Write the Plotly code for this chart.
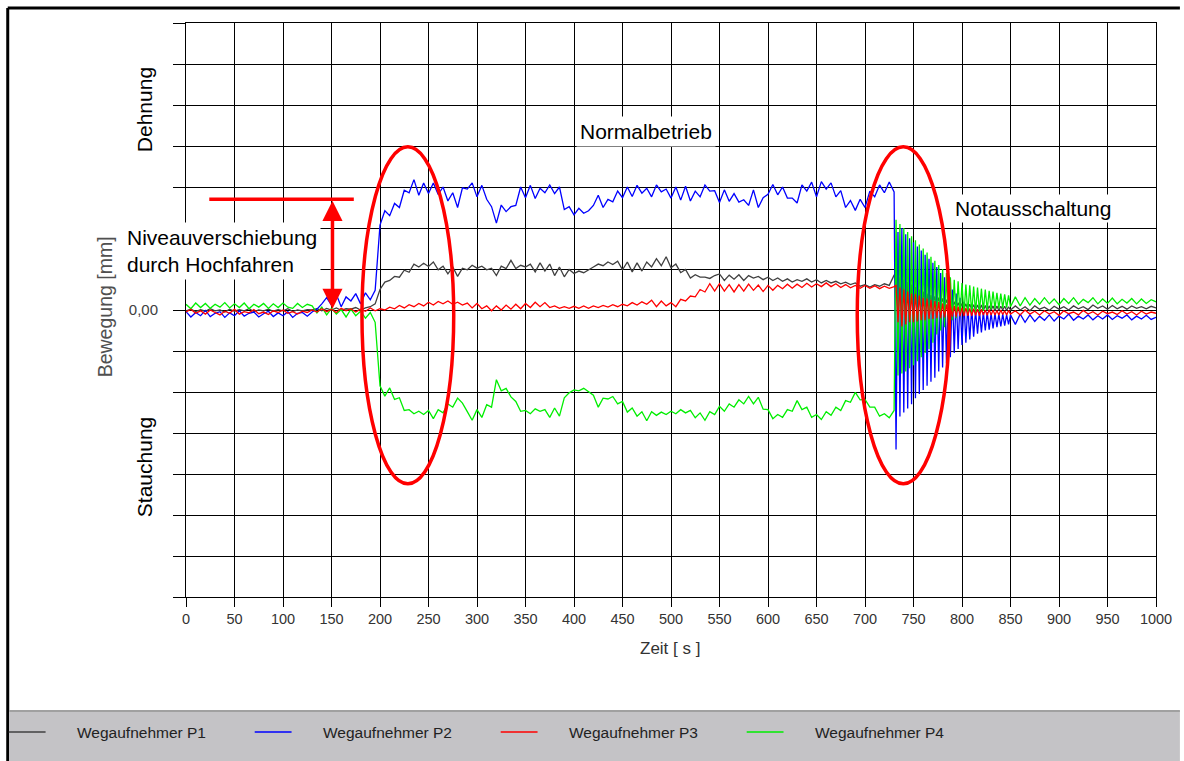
import numpy as np
import plotly.graph_objects as go

# ---------------- data (grid units) ----------------
# time bases: 0..730 s every 5 s, 732..850 s every 2 s, 855..1000 s every 5 s
t_main = np.arange(0, 731, 5)
t_osc = np.arange(732, 851, 2)
t_tail = np.arange(855, 1001, 5)

# ---- Wegaufnehmer P1 (grey)
p1_rest = [-0.02, 0.02, -0.04, 0.01, -0.03, 0.03, -0.02, 0.00, -0.05, 0.02,
           -0.03, 0.01, -0.02, 0.03, -0.04, 0.00, -0.02, 0.02, -0.03, 0.01,
           -0.02, 0.03, -0.04, 0.00, -0.02, 0.01]
p1_start = [0.00, 0.03, -0.02, 0.04, 0.00, 0.05, -0.01, 0.03, 0.02, 0.06,
            0.00, 0.05, 0.08, 0.15]
p1_run = [0.50, 0.68, 0.72, 0.82, 0.80, 0.97, 0.92, 1.12, 1.05, 1.14,
          1.06, 1.17, 0.98, 1.07, 0.88, 1.05, 0.82, 1.02, 0.98, 1.09,
          1.02, 1.07, 0.98, 1.02, 0.84, 1.07, 1.01, 1.21, 1.01, 1.09,
          1.05, 1.12, 0.93, 1.15, 0.95, 1.12, 0.84, 1.05, 0.81, 0.99,
          0.89, 0.95, 0.91, 0.99, 1.05, 1.12, 1.08, 1.17, 1.11, 1.19,
          0.98, 1.17, 0.93, 1.15, 0.95, 1.17, 1.05, 1.25, 1.08, 1.30,
          1.03, 1.12, 0.91, 0.99, 0.78, 0.86, 0.80, 0.80, 0.77, 0.84,
          0.88, 0.72, 0.85, 0.75, 0.86, 0.72, 0.84, 0.78, 0.82, 0.74,
          0.80, 0.72, 0.78, 0.70, 0.76, 0.68, 0.74, 0.70, 0.76, 0.68,
          0.74, 0.66, 0.72, 0.66, 0.70, 0.64, 0.68, 0.62, 0.66, 0.58,
          0.62, 0.56, 0.62, 0.58, 0.64, 0.60, 0.85]
p1_osc = [0.90, -0.10, 0.80, -0.05, 0.75, 0.00, 0.68, 0.02, 0.62, 0.05,
          0.56, 0.06, 0.50, 0.08, 0.45, 0.08, 0.40, 0.10, 0.36, 0.10,
          0.33, 0.10, 0.30, 0.10, 0.28, 0.08, 0.25, 0.08, 0.22, 0.06,
          0.20, 0.05, 0.18, 0.04, 0.16, 0.03, 0.15, 0.02, 0.14, 0.02,
          0.13, 0.00, 0.12, 0.00, 0.12, -0.01, 0.11, -0.01, 0.10, 0.00,
          0.10, -0.02, 0.10, -0.01, 0.09, 0.00, 0.09, -0.01, 0.08, 0.00]
p1_tail = [0.10, 0.00, 0.08, -0.02, 0.10, 0.02, 0.07, -0.01, 0.09, 0.02,
           0.08, 0.00, 0.10, 0.03, 0.08, 0.01, 0.12, 0.04, 0.10, 0.02,
           0.11, 0.03, 0.09, 0.02, 0.10, 0.04, 0.08, 0.03, 0.09, 0.05]

# ---- Wegaufnehmer P2 (blue)
p2_rest = [-0.04, -0.17, -0.06, -0.14, -0.01, -0.16, -0.08, -0.04, -0.18, -0.07,
           -0.14, -0.02, -0.15, -0.08, -0.05, -0.17, -0.09, -0.03, -0.16, -0.07,
           -0.14, -0.04, -0.18, -0.08, -0.06, -0.15]
p2_start = [-0.05, 0.02, 0.15, 0.30, 0.12, 0.38, 0.08, 0.32, 0.22, 0.40,
            0.15, 0.42, 0.25, 0.48]
p2_run = [2.07, 2.42, 2.30, 2.60, 2.50, 2.92, 2.86, 3.18, 2.80, 3.10,
          2.84, 3.10, 2.82, 3.00, 2.66, 2.86, 2.50, 2.98, 2.95, 3.10,
          2.76, 3.04, 2.70, 2.52, 2.12, 2.56, 2.40, 2.52, 2.55, 3.00,
          2.74, 3.04, 2.72, 2.97, 2.86, 3.05, 2.84, 3.00, 2.45, 2.52,
          2.32, 2.48, 2.36, 2.42, 2.55, 2.80, 2.50, 2.70, 2.64, 2.90,
          2.74, 3.00, 2.77, 3.04, 2.85, 2.97, 2.76, 3.05, 2.88, 2.95,
          2.73, 3.00, 2.68, 3.02, 2.66, 2.90, 2.76, 3.05, 2.90, 2.91,
          2.62, 2.93, 2.65, 2.84, 2.63, 2.69, 2.55, 2.93, 2.50, 2.74,
          2.82, 3.06, 2.81, 3.00, 2.73, 2.73, 2.61, 3.05, 2.90, 3.12,
          2.76, 3.13, 2.95, 3.10, 2.76, 2.91, 2.50, 2.67, 2.43, 2.70,
          2.50, 2.90, 2.76, 3.05, 2.86, 3.12, 2.88]
p2_osc = [-3.40, 1.90, -2.60, 2.00, -2.50, 1.85, -2.40, 1.75, -2.30, 1.65,
          -2.15, 1.55, -2.05, 1.45, -1.95, 1.35, -1.85, 1.25, -1.75, 1.15,
          -1.65, 1.05, -1.50, 0.90, -1.40, 0.80, -1.30, 0.65, -1.15, 0.50,
          -1.05, 0.40, -0.95, 0.30, -0.85, 0.20, -0.80, 0.12, -0.72, 0.05,
          -0.65, 0.00, -0.58, -0.02, -0.55, -0.05, -0.50, -0.05, -0.48, -0.08,
          -0.45, -0.08, -0.42, -0.10, -0.40, -0.10, -0.38, -0.12, -0.35, -0.12]
p2_tail = [-0.35, -0.10, -0.30, -0.12, -0.28, -0.15, -0.25, -0.12, -0.27, -0.15,
           -0.22, -0.10, -0.25, -0.15, -0.22, -0.12, -0.24, -0.14, -0.22, -0.12,
           -0.23, -0.14, -0.20, -0.12, -0.24, -0.15, -0.22, -0.13, -0.23, -0.18]

# ---- Wegaufnehmer P3 (red)
p3_rest = [-0.05, 0.02, -0.08, -0.02, -0.10, 0.00, -0.06, -0.12, -0.03, -0.08,
           0.02, -0.10, -0.04, -0.07, 0.01, -0.09, -0.05, -0.11, -0.02, -0.06,
           0.00, -0.08, -0.04, -0.10, -0.03, -0.06]
p3_start = [0.00, -0.05, 0.03, -0.04, 0.02, -0.06, 0.04, -0.02, 0.03, -0.05,
            0.02, -0.03, 0.05, -0.02]
p3_run = [0.03, 0.00, 0.07, 0.03, 0.11, 0.05, 0.13, 0.08, 0.16, 0.10,
          0.19, 0.12, 0.21, 0.15, 0.22, 0.14, 0.19, 0.12, 0.17, 0.05,
          0.16, 0.03, 0.10, -0.02, 0.10, 0.00, 0.12, 0.02, 0.14, 0.03,
          0.16, 0.06, 0.19, 0.08, 0.18, 0.06, 0.10, 0.04, 0.08, 0.04,
          0.09, 0.04, 0.10, 0.04, 0.10, 0.06, 0.11, 0.07, 0.13, 0.08,
          0.14, 0.10, 0.18, 0.12, 0.20, 0.14, 0.24, 0.08, 0.22, 0.10,
          0.18, 0.08, 0.26, 0.22, 0.34, 0.32, 0.50, 0.44, 0.64, 0.46,
          0.64, 0.46, 0.62, 0.44, 0.62, 0.46, 0.63, 0.48, 0.61, 0.45,
          0.60, 0.48, 0.60, 0.52, 0.63, 0.53, 0.63, 0.55, 0.65, 0.56,
          0.64, 0.57, 0.66, 0.57, 0.64, 0.55, 0.62, 0.54, 0.60, 0.53,
          0.60, 0.53, 0.59, 0.52, 0.58, 0.53, 0.57]
p3_osc = [0.60, -0.30, 0.55, -0.40, 0.50, -0.35, 0.45, -0.30, 0.40, -0.30,
          0.38, -0.28, 0.35, -0.25, 0.30, -0.25, 0.28, -0.22, 0.25, -0.22,
          0.22, -0.20, 0.20, -0.20, 0.16, -0.18, 0.14, -0.18, 0.12, -0.16,
          0.10, -0.16, 0.08, -0.15, 0.06, -0.15, 0.05, -0.14, 0.04, -0.14,
          0.03, -0.13, 0.02, -0.14, 0.02, -0.12, 0.00, -0.13, 0.01, -0.12,
          0.00, -0.12, -0.01, -0.12, 0.00, -0.11, -0.02, -0.12, -0.01, -0.10]
p3_tail = [-0.02, -0.12, 0.00, -0.10, -0.03, -0.12, -0.02, -0.10, -0.04, -0.13,
           -0.02, -0.09, -0.05, -0.12, -0.01, -0.10, -0.04, -0.12, -0.03, -0.09,
           -0.05, -0.11, -0.02, -0.10, -0.04, -0.12, -0.03, -0.10, -0.05, -0.08]

# ---- Wegaufnehmer P4 (green)
p4_rest = [0.14, 0.03, 0.17, 0.06, 0.16, 0.04, 0.14, 0.07, 0.18, 0.05,
           0.15, 0.06, 0.17, 0.03, 0.14, 0.07, 0.16, 0.04, 0.15, 0.06,
           0.17, 0.07, 0.04, 0.16, 0.06, 0.14]
p4_start = [0.10, -0.07, 0.07, -0.12, 0.04, -0.10, 0.01, -0.17, 0.02, -0.14,
            -0.03, -0.20, -0.06, -0.30]
p4_run = [-1.85, -2.10, -1.90, -2.18, -2.14, -2.45, -2.43, -2.53, -2.47, -2.55,
          -2.45, -2.65, -2.43, -2.51, -2.29, -2.37, -2.15, -2.27, -2.48, -2.69,
          -2.43, -2.62, -2.31, -2.37, -1.70, -1.97, -1.91, -2.12, -2.23, -2.47,
          -2.45, -2.53, -2.41, -2.47, -2.43, -2.62, -2.39, -2.59, -2.14, -2.02,
          -1.95, -1.97, -1.91, -2.00, -2.08, -2.37, -2.15, -2.17, -2.11, -2.29,
          -2.23, -2.49, -2.39, -2.59, -2.48, -2.70, -2.48, -2.57, -2.49, -2.55,
          -2.47, -2.53, -2.43, -2.51, -2.45, -2.63, -2.51, -2.69, -2.48, -2.55,
          -2.35, -2.47, -2.29, -2.37, -2.19, -2.29, -2.11, -2.29, -2.13, -2.42,
          -2.43, -2.65, -2.55, -2.62, -2.43, -2.47, -2.21, -2.43, -2.37, -2.62,
          -2.55, -2.67, -2.48, -2.57, -2.37, -2.45, -2.21, -2.25, -2.01, -2.19,
          -2.18, -2.37, -2.37, -2.59, -2.53, -2.63, -2.45]
p4_osc = [2.20, -1.60, 2.10, -1.55, 2.00, -1.50, 1.90, -1.42, 1.80, -1.35,
          1.70, -1.25, 1.60, -1.15, 1.50, -1.05, 1.40, -0.95, 1.30, -0.80,
          1.20, -0.60, 1.10, -0.50, 1.00, -0.42, 0.90, -0.32, 0.80, -0.25,
          0.74, -0.20, 0.70, -0.15, 0.66, -0.12, 0.62, -0.10, 0.60, -0.08,
          0.57, -0.06, 0.55, -0.04, 0.52, -0.02, 0.50, 0.00, 0.47, 0.02,
          0.45, 0.03, 0.42, 0.04, 0.40, 0.05, 0.38, 0.06, 0.36, 0.08]
p4_tail = [0.32, 0.10, 0.30, 0.12, 0.28, 0.14, 0.30, 0.15, 0.27, 0.13,
           0.28, 0.16, 0.30, 0.14, 0.26, 0.18, 0.30, 0.15, 0.27, 0.16,
           0.29, 0.15, 0.26, 0.17, 0.28, 0.15, 0.27, 0.16, 0.25, 0.20]

series_names = ["Wegaufnehmer P1", "Wegaufnehmer P2", "Wegaufnehmer P3", "Wegaufnehmer P4"]
x_ticks = list(range(0, 1001, 50))
y_ticks = list(range(-7, 8))
y_ticktext = ["0,00" if v == 0 else "" for v in y_ticks]

# ---------------- assemble ----------------
t_all = np.concatenate([t_main, t_osc, t_tail])
series = {
    "Wegaufnehmer P1": p1_rest + p1_start + p1_run + p1_osc + p1_tail,
    "Wegaufnehmer P2": p2_rest + p2_start + p2_run + p2_osc + p2_tail,
    "Wegaufnehmer P3": p3_rest + p3_start + p3_run + p3_osc + p3_tail,
    "Wegaufnehmer P4": p4_rest + p4_start + p4_run + p4_osc + p4_tail,
}
for k, v in series.items():
    assert len(v) == len(t_all), (k, len(v), len(t_all))

colors = {"Wegaufnehmer P1": "#404040", "Wegaufnehmer P2": "#0000ff",
          "Wegaufnehmer P3": "#ff0000", "Wegaufnehmer P4": "#00ee00"}
draw_order = ["Wegaufnehmer P1", "Wegaufnehmer P2", "Wegaufnehmer P4", "Wegaufnehmer P3"]

FONT = "Liberation Sans, Arial, Helvetica, sans-serif"
fig = go.Figure()
for name in draw_order:
    fig.add_trace(go.Scatter(x=t_all, y=series[name], mode="lines", name=name,
                             line=dict(color=colors[name], width=1.3),
                             showlegend=False, hoverinfo="skip"))

W, H = 1184, 761
L, R, T, B = 186, 24, 23, 164
PW, PH = W - L - R, H - T - B


def px(x):
    return (x - L) / PW


def py(y):
    return (H - B - y) / PH


fig.update_layout(
    width=W, height=H,
    margin=dict(l=L, r=R, t=T, b=B, pad=0),
    paper_bgcolor="white", plot_bgcolor="white",
    font=dict(family=FONT, color="#333333"),
    showlegend=False,
)
fig.update_xaxes(range=[0, 1000], tickvals=x_ticks, ticktext=[str(v) for v in x_ticks],
                 ticks="outside", ticklen=9, tickcolor="black", tickwidth=1,
                 showgrid=True, gridcolor="black", gridwidth=1, zeroline=False,
                 showline=True, linecolor="black", linewidth=1, mirror=True,
                 tickfont=dict(size=14.5, color="#333333", family=FONT))
fig.update_yaxes(range=[-7, 7], tickvals=y_ticks, ticktext=y_ticktext,
                 ticks="outside", ticklen=12, tickcolor="black", tickwidth=1,
                 showgrid=True, gridcolor="black", gridwidth=1, zeroline=False,
                 showline=True, linecolor="black", linewidth=1, mirror=True,
                 ticklabelstandoff=12,
                 tickfont=dict(size=15, color="#404040", family=FONT))

shapes = []
# red marker line and ellipses
shapes.append(dict(type="line", xref="x", yref="y", x0=24, x1=173, y0=2.70, y1=2.70,
                   line=dict(color="red", width=3.5), layer="above"))
shapes.append(dict(type="circle", xref="x", yref="y", x0=181.4, x1=276, y0=-4.24, y1=3.98,
                   line=dict(color="red", width=3.5), layer="above"))
shapes.append(dict(type="circle", xref="x", yref="y", x0=692, x1=787, y0=-4.24, y1=3.98,
                   line=dict(color="red", width=3.5), layer="above"))
# outer frame
shapes.append(dict(type="line", xref="paper", yref="paper", x0=px(7), x1=px(7), y0=py(8), y1=py(761),
                   line=dict(color="black", width=3)))
shapes.append(dict(type="line", xref="paper", yref="paper", x0=px(7), x1=px(1184), y0=py(8), y1=py(8),
                   line=dict(color="black", width=3)))
# legend bar
shapes.append(dict(type="rect", xref="paper", yref="paper", x0=px(8.5), x1=px(1184), y0=py(761), y1=py(711),
                   fillcolor="#c4c3c6", line=dict(width=0), layer="above"))
shapes.append(dict(type="line", xref="paper", yref="paper", x0=px(8.5), x1=px(1184), y0=py(711), y1=py(711),
                   line=dict(color="#a0a0a0", width=2), layer="above"))

annotations = []
for i, name in enumerate(series_names):
    x0 = 8 + i * 247
    shapes.append(dict(type="line", xref="paper", yref="paper", x0=px(x0), x1=px(x0 + 37),
                       y0=py(732), y1=py(732), line=dict(color=colors[name], width=1.3), layer="above"))
    annotations.append(dict(xref="paper", yref="paper", x=px(x0 + 67), y=py(732), text=name,
                            showarrow=False, xanchor="left", yanchor="middle",
                            font=dict(size=15.5, color="#222222", family=FONT)))

# double arrow
annotations.append(dict(xref="x", yref="y", axref="x", ayref="y", x=151, y=0.03, ax=151, ay=2.70,
                        text="", showarrow=True, arrowhead=2, startarrowhead=2, arrowside="end+start",
                        arrowsize=1.15, startarrowsize=1.15, arrowwidth=3.5, arrowcolor="red",
                        standoff=0, startstandoff=0))

big = dict(size=21, color="black", family=FONT)
annotations += [
    dict(xref="paper", yref="paper", x=px(145), y=py(110), text="Dehnung", textangle=-90,
         showarrow=False, xanchor="center", yanchor="middle", font=big),
    dict(xref="paper", yref="paper", x=px(144), y=py(467), text="Stauchung", textangle=-90,
         showarrow=False, xanchor="center", yanchor="middle", font=big),
    dict(xref="paper", yref="paper", x=px(105), y=py(307), text="Bewegung [mm]", textangle=-90,
         showarrow=False, xanchor="center", yanchor="middle",
         font=dict(size=19.5, color="#505050", family=FONT)),
    dict(xref="paper", yref="paper", x=px(672), y=py(648), text="Zeit [ s ]",
         showarrow=False, xanchor="center", yanchor="middle",
         font=dict(size=17, color="#333333", family=FONT)),
    dict(xref="paper", yref="paper", x=px(648), y=py(131), text="Normalbetrieb",
         showarrow=False, xanchor="center", yanchor="middle", font=big,
         bgcolor="white", borderpad=3),
    dict(xref="paper", yref="paper", x=px(1036), y=py(208), text="Notausschaltung",
         showarrow=False, xanchor="center", yanchor="middle", font=big,
         bgcolor="white", borderpad=2),
    dict(xref="paper", yref="paper", x=px(123), y=py(251), text="Niveauverschiebung<br>durch Hochfahren",
         showarrow=False, xanchor="left", yanchor="middle", align="left", font=big,
         bgcolor="white", borderpad=3),
]

fig.update_layout(shapes=shapes, annotations=annotations)
fig.write_html("out.html", config={"displayModeBar": False},
               post_script="document.body.style.margin='0';")
